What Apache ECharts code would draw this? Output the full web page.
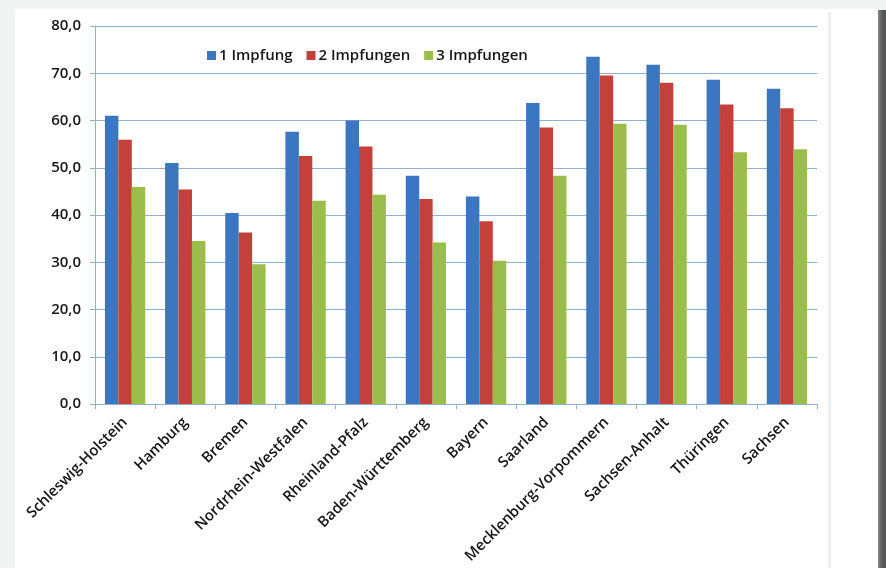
<!DOCTYPE html>
<html>
<head>
<meta charset="utf-8">
<script src="https://cdn.jsdelivr.net/npm/echarts@6/dist/echarts.min.js"></script>
<style>
  html, body { margin: 0; padding: 0; }
  body { width: 886px; height: 568px; background: #f2f3f3; position: relative; overflow: hidden; }
  #card { position: absolute; left: 15px; top: 9px; width: 863px; height: 570px; background: #fff; }
  #innerline { position: absolute; left: 827px; top: 12px; width: 5px; height: 560px;
               background: linear-gradient(to right, #fff, #e6eaec, #fff); }
  #edge { position: absolute; left: 878px; top: 10px; width: 8px; height: 560px;
          background: linear-gradient(to right, #8a8a8a, #5a5a5a 50%, #555); }
  #chart { position: absolute; left: 0; top: 0; width: 886px; height: 568px; }
</style>
</head>
<body>
<div id="card"></div>
<div id="innerline"></div>
<div id="edge"></div>
<div id="chart"></div>
<script>
var laender = ['Schleswig-Holstein', 'Hamburg', 'Bremen', 'Nordrhein-Westfalen', 'Rheinland-Pfalz',
  'Baden-Württemberg', 'Bayern', 'Saarland', 'Mecklenburg-Vorpommern', 'Sachsen-Anhalt', 'Thüringen', 'Sachsen'];
var seriesNames = ['1 Impfung', '2 Impfungen', '3 Impfungen'];
var impfung1 = [61.0, 51.0, 40.4, 57.6, 60.0, 48.3, 43.9, 63.7, 73.5, 71.8, 68.6, 66.7];
var impfung2 = [55.9, 45.4, 36.3, 52.5, 54.5, 43.4, 38.7, 58.5, 69.5, 68.0, 63.4, 62.6];
var impfung3 = [45.9, 34.5, 29.6, 43.0, 44.3, 34.2, 30.3, 48.3, 59.3, 59.1, 53.3, 53.9];
var farben = ['#3b76c1', '#c3403b', '#9abd4c'];

var font = '"Open Sans", "Liberation Sans", sans-serif';
var gridColor = '#8fb0cf';
var textColor = '#161616';

var chart = echarts.init(document.getElementById('chart'));

function makeSeries(name, data, i) {
  return {
    name: name,
    type: 'bar',
    data: data,
    barGap: '0%',
    barCategoryGap: '33%',
    itemStyle: { color: farben[i] }
  };
}

chart.setOption({
  animation: false,
  textStyle: { fontFamily: font },
  legend: {
    data: seriesNames,
    left: 202,
    top: 43,
    itemWidth: 9,
    itemHeight: 9,
    itemGap: 14,
    icon: 'rect',
    textStyle: { fontFamily: font, fontSize: 15, fontWeight: 600, color: textColor, padding: [0, 0, 0, -2] }
  },
  grid: { left: 95, right: 69, top: 26, bottom: 164, containLabel: false },
  xAxis: {
    type: 'category',
    data: laender,
    axisLine: { lineStyle: { color: gridColor, width: 1 } },
    axisTick: { show: true, length: 5, lineStyle: { color: gridColor } },
    axisLabel: {
      rotate: 45,
      interval: 0,
      margin: 16,
      fontFamily: font,
      fontSize: 15,
      fontWeight: 600,
      color: textColor
    },
    splitLine: { show: false }
  },
  yAxis: {
    type: 'value',
    min: 0,
    max: 80,
    interval: 10,
    axisLine: { show: true, lineStyle: { color: gridColor } },
    axisTick: { show: true, length: 5, lineStyle: { color: gridColor } },
    axisLabel: {
      margin: 14,
      fontFamily: font,
      fontSize: 15,
      fontWeight: 600,
      color: textColor,
      formatter: function (v) { return v.toFixed(1).replace('.', ','); }
    },
    splitLine: { lineStyle: { color: gridColor, width: 1 } }
  },
  series: [
    makeSeries(seriesNames[0], impfung1, 0),
    makeSeries(seriesNames[1], impfung2, 1),
    makeSeries(seriesNames[2], impfung3, 2)
  ]
});
</script>
</body>
</html>
